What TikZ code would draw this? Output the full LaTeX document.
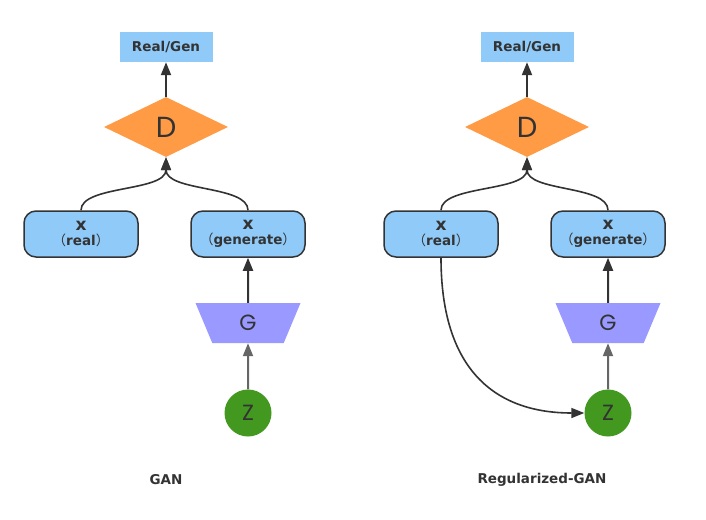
\documentclass[tikz,border=0pt]{standalone}
\usepackage{fontspec}
\setmainfont{DejaVu Sans}
\newfontfamily\geofont{Poppins}
\newfontfamily\cjk{Noto Sans CJK SC}
\usetikzlibrary{shapes.geometric,arrows.meta}
\definecolor{boxblue}{HTML}{90CAF9}
\definecolor{dorange}{HTML}{FF9A45}
\definecolor{gpurple}{HTML}{9999FF}
\definecolor{zgreen}{HTML}{43991F}
\definecolor{ink}{HTML}{333333}
\definecolor{inkgray}{HTML}{666666}
\newcommand{\fwp}[1]{{\cjk\mdseries #1}}
\newcommand{\bigx}{{\fontsize{17}{17}\selectfont x}}
\begin{document}
\begin{tikzpicture}[x=1pt,y=-1pt,
	outbox/.style={fill=boxblue, minimum width=93pt, minimum height=30pt, inner sep=0pt, text=ink, font=\bfseries\fontsize{13.5}{15}\selectfont},
	disc/.style={diamond, fill=dorange, minimum width=124pt, minimum height=60pt, inner sep=0pt, text=ink, font=\geofont\fontsize{29}{30}\selectfont},
	xbox/.style={draw=ink, line width=1.5pt, rounded corners=12pt, fill=boxblue, minimum width=114pt, minimum height=46pt, inner sep=0pt, align=center, text=ink, font=\bfseries\fontsize{13.5}{15}\selectfont},
	gen/.style={trapezium, shape border rotate=180, trapezium stretches body, trapezium left angle=43, trapezium right angle=43, fill=gpurple, minimum width=105pt, minimum height=40pt, inner sep=0pt, text=ink, font=\geofont\fontsize{22}{24}\selectfont},
	noise/.style={circle, fill=zgreen, minimum size=47pt, inner sep=0pt, text=ink, font=\geofont\fontsize{22}{24}\selectfont},
	caption/.style={text=ink, font=\bfseries\fontsize{13.5}{15}\selectfont},
	flow/.style={draw=ink, line width=2pt, -{Triangle[width=10pt,length=13pt]}},
	merge/.style={draw=ink, line width=1.6pt, -{Triangle[width=10pt,length=13pt]}},
	feed/.style={draw=inkgray, line width=2pt, -{Triangle[width=10pt,length=13pt]}}]
	\useasboundingbox (0,0) rectangle (706,519);
	% GAN
	\node [outbox] (out1) at (166,47) {Real/Gen};
	\node [disc] (d1) at (166,127) {D};
	\node [xbox] (xr1) at (81,234) {\bigx\\\fwp{（}real\fwp{）}};
	\node [xbox] (xg1) at (248,234) {\bigx\\\fwp{（}generate\fwp{）}};
	\node [gen] (g1) at (248,323) {G};
	\node [noise] (z1) at (248,413) {Z};
	\node [caption] (cap1) at (166,480) {GAN};
	\draw [flow] (d1.north) -- (out1.south);
	\draw [merge] (xr1.north) .. controls (81,185) and (166,192) .. (d1.south);
	\draw [merge] (xg1.north) .. controls (248,185) and (166,192) .. (d1.south);
	\draw [flow] (g1.north) -- (xg1.south);
	\draw [feed] (z1.north) -- (g1.south);
	% Regularized-GAN
	\node [outbox] (out2) at (527,47) {Real/Gen};
	\node [disc] (d2) at (527,127) {D};
	\node [xbox] (xr2) at (441,234) {\bigx\\\fwp{（}real\fwp{）}};
	\node [xbox] (xg2) at (608,234) {\bigx\\\fwp{（}generate\fwp{）}};
	\node [gen] (g2) at (608,323) {G};
	\node [noise] (z2) at (608,413) {Z};
	\node [caption] (cap2) at (542,480) {Regularized-GAN};
	\draw [flow] (d2.north) -- (out2.south);
	\draw [merge] (xr2.north) .. controls (441,185) and (527,192) .. (d2.south);
	\draw [merge] (xg2.north) .. controls (608,185) and (527,192) .. (d2.south);
	\draw [flow] (g2.north) -- (xg2.south);
	\draw [feed] (z2.north) -- (g2.south);
	\draw [merge] (xr2.south) .. controls (441,375) and (500,413) .. (z2.west);
\end{tikzpicture}
\end{document}
